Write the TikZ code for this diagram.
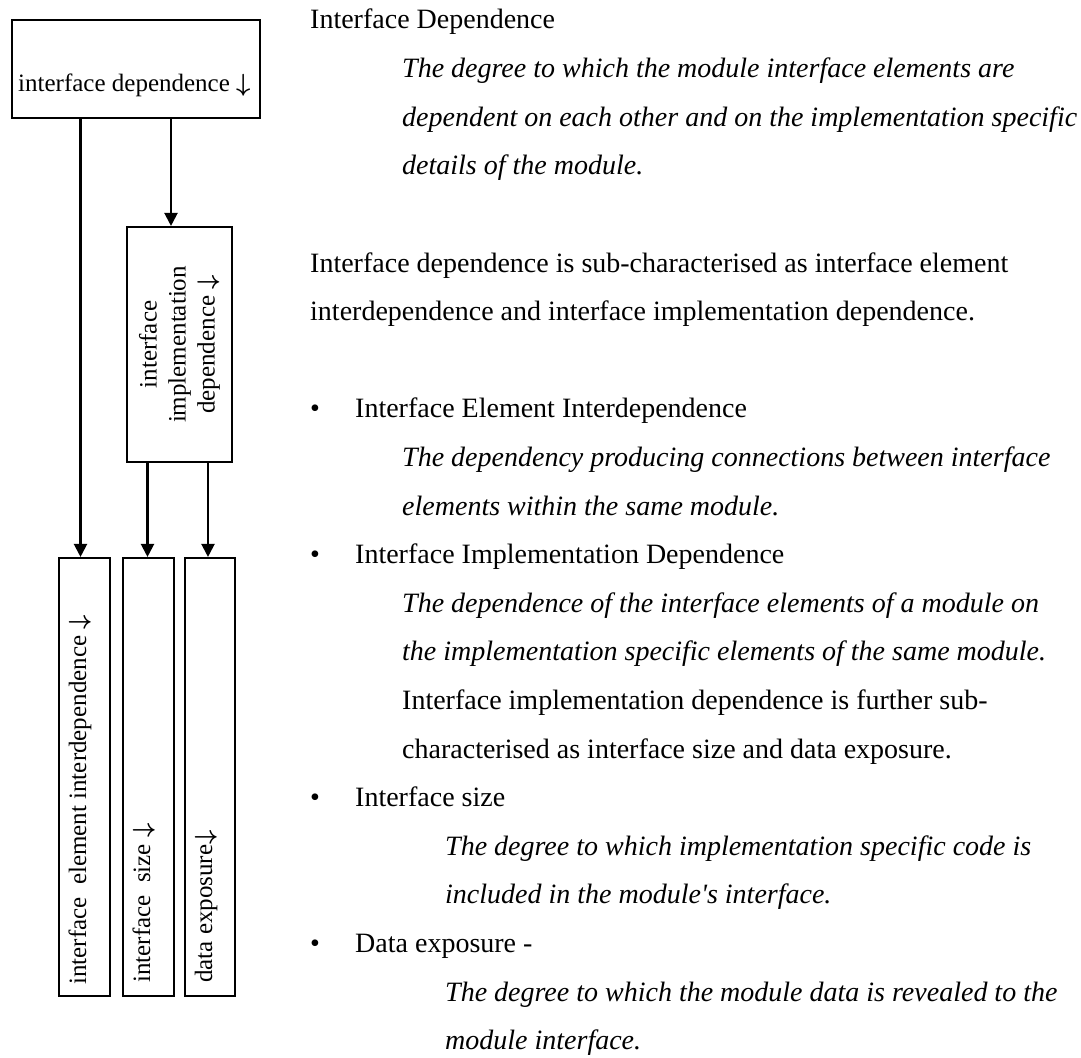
\documentclass[tikz,border=0pt]{standalone}
\usepackage{fontspec}
\setmainfont{Liberation Serif}
\usetikzlibrary{arrows.meta}
% downward arrow glyph used in the box labels
\newcommand{\darr}{{\boldmath$\downarrow$}}
\begin{document}
\begin{tikzpicture}[x=1pt,y=-1pt,
  box/.style={draw,line width=2.1pt,inner sep=0pt},
  link/.style={line width=2.1pt,-{Triangle[length=13pt,width=13pt]}},
  diag/.style={font=\fontsize{25}{29}\selectfont,inner sep=0pt},
  body/.style={font=\fontsize{28}{34}\selectfont,anchor=base west,inner sep=0pt},
  gloss/.style={body,font=\fontsize{28}{34}\selectfont\itshape},
]
\useasboundingbox[fill=white] (0,0) rectangle (1081,1057);

% characteristic boxes
\node[box,minimum width=248pt,minimum height=98pt] (top) at (136,69) {};
\node[box,minimum width=105pt,minimum height=235pt] (M) at (179.5,344.5) {};
\node[box,minimum width=51pt,minimum height=438pt] (A) at (84.5,777) {};
\node[box,minimum width=51pt,minimum height=438pt] (B) at (148.5,777) {};
\node[box,minimum width=50pt,minimum height=438pt] (C) at (210,777) {};

% box labels
\node[diag,anchor=base west] (topl) at (18,92) {interface dependence \darr};
\node[diag,rotate=90,align=center] (Ml) at (179.5,344.5) {interface\\implementation\\dependence \darr};
\node[diag,rotate=90,anchor=base west] (Al) at (86,985) {interface\ \ element interdependence \darr};
\node[diag,rotate=90,anchor=base west] (Bl) at (150,983) {interface\ \ size \darr};
\node[diag,rotate=90,anchor=base west] (Cl) at (212,983) {data exposure\darr};

% connectors
\coordinate (ea) at ([xshift=-4pt]A.north);
\coordinate (em) at ([xshift=-8.5pt]M.north);
\coordinate (eb) at ([xshift=-1pt]B.north);
\coordinate (ec) at ([xshift=-2pt]C.north);
\draw[link] (ea |- top.south) -- (ea);
\draw[link] (em |- top.south) -- (em);
\draw[link] (eb |- M.south) -- (eb);
\draw[link] (ec |- M.south) -- (ec);

% description text
\node[body] (t0) at (310,29) {Interface Dependence};
\node[gloss] (t1) at (402,77.6) {The degree to which the module interface elements are};
\node[gloss] (t2) at (402,126.2) {dependent on each other and on the implementation specific};
\node[gloss] (t3) at (402,174.8) {details of the module.};
\node[body] (t5) at (310,272) {Interface dependence is sub-characterised as interface element};
\node[body] (t6) at (310,320.6) {interdependence and interface implementation dependence.};

\node[body] (b8) at (310,417.8) {•};
\node[body] (t8) at (355,417.8) {Interface Element Interdependence};
\node[gloss] (t9) at (402,466.4) {The dependency producing connections between interface};
\node[gloss] (t10) at (402,515) {elements within the same module.};

\node[body] (b11) at (310,563.6) {•};
\node[body] (t11) at (355,563.6) {Interface Implementation Dependence};
\node[gloss] (t12) at (402,612.2) {The dependence of the interface elements of a module on};
\node[gloss] (t13) at (402,660.8) {the implementation specific elements of the same module.};
\node[body] (t14) at (402,709.4) {Interface implementation dependence is further sub-};
\node[body] (t15) at (402,758) {characterised as interface size and data exposure.};

\node[body] (b16) at (310,806.6) {•};
\node[body] (t16) at (355,806.6) {Interface size};
\node[gloss] (t17) at (445,855.2) {The degree to which implementation specific code is};
\node[gloss] (t18) at (445,903.8) {included in the module\textquotesingle s interface.};

\node[body] (b19) at (310,952.4) {•};
\node[body] (t19) at (355,952.4) {Data exposure -};
\node[gloss] (t20) at (445,1001) {The degree to which the module data is revealed to the};
\node[gloss] (t21) at (445,1049.6) {module interface.};
\end{tikzpicture}
\end{document}
